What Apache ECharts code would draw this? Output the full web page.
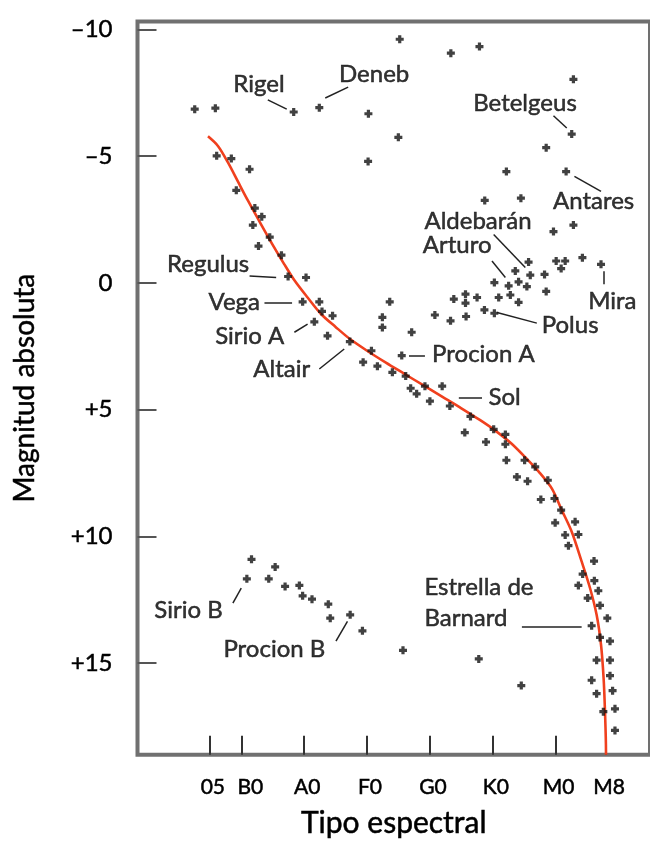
<!DOCTYPE html>
<html><head><meta charset="utf-8">
<script src="https://cdn.jsdelivr.net/npm/echarts@6/dist/echarts.min.js"></script>
<style>html,body{margin:0;padding:0;background:#fff}#c{width:650px;height:844px}</style>
</head><body><div id="c"></div>
<script>
// Spectral type index: O0=0, B0=10, A0=20, F0=30, G0=40, K0=50, M0=60, M8=68
const tickValuesX = [5, 10, 20, 30, 40, 50, 60, 68];
const tickLabelsX = ['05', 'B0', 'A0', 'F0', 'G0', 'K0', 'M0', 'M8'];
const tickValuesY = [-10, -5, 0, 5, 10, 15];
const tickLabelsY = ['–10', '–5', '0', '+5', '+10', '+15'];

// Stars [spectral index, absolute magnitude]
const supergiants = [
  [2.60,-6.85],[5.88,-6.89],[18.34,-6.74],[22.41,-6.91],[30.22,-6.67],[35.20,-9.61],
  [43.33,-9.06],[47.88,-9.32],[62.82,-8.03],[34.98,-5.74],[30.17,-4.79],[62.55,-5.87],
  [58.49,-5.33],[52.16,-4.39],[61.66,-4.39],[48.72,-3.25],[54.47,-3.34],[62.82,-2.28],[59.65,-2.02]
];
const giants = [
  [55.69,-0.82],[60.08,-0.86],[61.51,-0.86],[64.25,-0.99],[67.21,-0.73],[53.58,-0.47],
  [55.96,-0.30],[58.23,-0.33],[60.87,-0.56],[50.25,-0.01],[52.52,0.12],[54.10,-0.04],
  [55.42,0.15],[58.49,0.34],[43.80,0.64],[45.66,0.45],[45.66,0.80],[47.50,0.58],
  [50.94,0.58],[52.79,0.48],[54.10,0.77],[48.67,1.07],[50.25,1.20],[40.79,1.27],
  [43.28,1.50],[45.75,1.33],[33.61,0.75],[32.44,1.36],[32.44,1.76],[37.10,1.95],[35.52,2.87]
];
const mainSequence = [
  [6.09,-5.01],[8.42,-4.90],[11.32,-4.48],[9.21,-3.65],[12.16,-2.95],[13.26,-2.61],
  [11.84,-2.28],[14.53,-1.80],[12.74,-1.45],[16.39,-1.09],[17.45,-0.25],[20.30,-0.21],
  [19.76,0.75],[22.41,0.75],[22.84,1.13],[24.52,1.30],[21.62,1.54],[23.72,2.09],
  [27.27,2.32],[30.70,2.68],[29.38,3.13],[31.65,3.29],[34.03,3.53],[36.15,3.68],
  [36.94,4.16],[37.89,4.38],[39.21,4.08],[41.95,4.08],[40.00,4.67],[43.17,4.86],
  [46.45,5.27],[45.55,5.91],[50.14,5.78],[52.00,5.98],[52.00,6.37],[48.92,6.28],
  [52.16,7.00],[55.06,7.00],[56.75,7.26],[53.84,7.66],[55.53,7.83],[58.75,7.79],
  [57.64,8.55],[59.81,8.51],[60.87,8.97],[59.92,9.47],[63.09,9.43],[63.61,9.93],
  [61.51,9.95],[62.03,10.37],[66.10,10.98],[64.29,11.49],[66.15,11.75],[63.61,11.94],
  [66.78,12.15],[65.09,12.44],[67.05,12.73],[68.21,13.23],[65.72,13.53],[67.05,13.99],
  [68.64,14.14],[66.51,14.89],[68.64,14.89],[68.64,15.50],[65.72,15.68],[69.05,16.09],
  [66.51,16.21],[69.43,16.81],[67.58,16.92],[69.43,17.66]
];
const whiteDwarfs = [
  [11.63,10.91],[10.89,11.68],[15.39,11.21],[14.37,11.68],[16.97,11.98],[19.24,11.94],
  [19.76,12.35],[21.25,12.48],[23.84,12.68],[24.15,13.23],[27.32,13.10],[29.27,13.73],
  [35.72,14.50],[47.77,14.84],[54.53,15.89]
];

// Main-sequence curve
const curveX = [4.71,6.29,7.88,9.46,11.05,13.17,15.0,16.8,18.45,20.55,22.68,25.0,27.3,30.0,33.0,36.0,39.0,42.0,45.0,48.0,50.5,53.0,55.3,57.3,59.4,60.97,62.55,64.14,65.47,66.51,67.21,67.62,67.84,68.00,68.00];
const curveY = [-5.78,-5.40,-4.75,-4.00,-3.25,-2.30,-1.50,-0.75,-0.10,0.58,1.23,1.74,2.22,2.68,3.15,3.60,4.05,4.50,4.95,5.42,5.85,6.35,6.92,7.45,8.12,8.97,9.82,11.00,12.05,13.10,14.28,15.59,16.90,18.47,18.62];

// Annotations: text, anchor (left edge, middle)
const labelText = ['Rigel','Deneb','Betelgeus','Antares','Aldebarán','Arturo','Regulus','Mira','Vega','Sirio A','Polus','Altair','Procion A','Sol','Sirio B','Procion B','Estrella de','Barnard'];
const labelX = [8.66,25.47,46.81,59.49,39.05,38.78,-1.89,65.09,4.71,5.77,57.70,11.84,40.27,49.24,-3.90,7.08,39.05,39.05];
const labelY = [-7.85,-8.24,-7.09,-3.21,-2.42,-1.49,-0.72,0.72,0.77,2.09,1.67,3.42,2.81,4.50,12.91,14.45,12.01,13.23];
// Leader lines
const leadX1 = [14.22,23.36,59.65,62.98,50.14,49.87,11.32,67.58,13.69,18.45,50.67,22.41,36.67,44.60,8.67,25.06,54.63];
const leadY1 = [-7.22,-7.29,-6.59,-4.20,-1.91,-0.86,-0.27,-0.46,0.80,1.95,1.17,3.40,2.87,4.55,12.64,14.14,13.58];
const leadX2 = [17.23,27.00,61.76,67.21,55.17,52.00,15.55,67.58,18.08,20.55,57.00,26.37,39.21,48.29,10.00,26.89,64.13];
const leadY2 = [-6.85,-7.72,-6.11,-3.61,-0.60,-0.21,-0.21,0.06,0.80,1.63,1.59,2.61,2.87,4.55,12.05,13.36,13.58];

const FONT = 'Lato';
const starSymbol = 'path://M3,0h4v3h3v4h-3v3h-4v-3h-3v-4h3z';
const allStars = supergiants.concat(giants, mainSequence, whiteDwarfs);
const heavy = {textBorderColor: '#000', textBorderWidth: 0.5};

const chart = echarts.init(document.getElementById('c'), null, {renderer: 'canvas'});
chart.setOption({
  animation: false,
  backgroundColor: '#fff',
  grid: {left: 137.5, right: -2, top: 21.5, bottom: 87, show: true, borderColor: '#707070', borderWidth: 4, backgroundColor: 'transparent'},
  xAxis: {
    type: 'value', min: -6.5, max: 75,
    name: 'Tipo espectral', nameLocation: 'middle', nameGap: 54,
    nameTextStyle: Object.assign({fontFamily: FONT, fontSize: 30, color: '#000'}, heavy),
    axisLine: {show: false, onZero: false},
    splitLine: {show: false},
    axisTick: {show: true, inside: true, length: 19, customValues: tickValuesX, lineStyle: {color: '#333', width: 2}},
    axisLabel: Object.assign({show: true, margin: 22, customValues: tickValuesX, fontFamily: FONT, fontSize: 21, color: '#000',
      formatter: v => {
        const i = tickValuesX.indexOf(Math.round(v));
        return (i === 1 ? '{b|' : '{a|') + tickLabelsX[i] + '}';
      },
      rich: {
        a: Object.assign({fontFamily: FONT, fontSize: 21, color: '#000', padding: [0, 0, 0, 6]}, heavy),
        b: Object.assign({fontFamily: FONT, fontSize: 21, color: '#000', padding: [0, 0, 0, 18]}, heavy)
      }}, heavy)
  },
  yAxis: {
    type: 'value', min: -10.31, max: 18.62, inverse: true,
    name: 'Magnitud absoluta', nameLocation: 'middle', nameGap: 99,
    nameTextStyle: Object.assign({fontFamily: FONT, fontSize: 28, color: '#000'}, heavy),
    axisLine: {show: false, onZero: false},
    splitLine: {show: false},
    axisTick: {show: true, inside: true, length: 19, customValues: tickValuesY, lineStyle: {color: '#555', width: 2}},
    axisLabel: Object.assign({show: true, margin: 25, customValues: tickValuesY, fontFamily: FONT, fontSize: 24, color: '#000',
      formatter: v => tickLabelsY[tickValuesY.indexOf(Math.round(v))]}, heavy)
  },
  series: [
    {
      type: 'line', name: 'Secuencia principal', z: 2,
      data: curveX.map((x, i) => [x, curveY[i]]),
      smooth: 0.3, showSymbol: false, symbol: 'none',
      lineStyle: {color: '#f0401e', width: 2.6}
    },
    {
      type: 'scatter', name: 'Estrellas', z: 4,
      data: allStars, symbol: starSymbol, symbolSize: 8,
      itemStyle: {color: '#111'}
    },
    {
      type: 'lines', coordinateSystem: 'cartesian2d', z: 3,
      data: leadX1.map((x, i) => ({coords: [[x, leadY1[i]], [leadX2[i], leadY2[i]]]})),
      lineStyle: {color: '#222', width: 1.5, opacity: 1}
    },
    {
      type: 'scatter', name: 'Nombres', z: 5, symbolSize: 1,
      itemStyle: {color: 'transparent'},
      data: labelText.map((t, i) => ({name: t, value: [labelX[i], labelY[i]]})),
      label: Object.assign({show: true, position: 'right', distance: 0, formatter: p => p.name,
        fontFamily: FONT, fontSize: 24, color: '#000'}, heavy)
    }
  ]
});
</script></body></html>
